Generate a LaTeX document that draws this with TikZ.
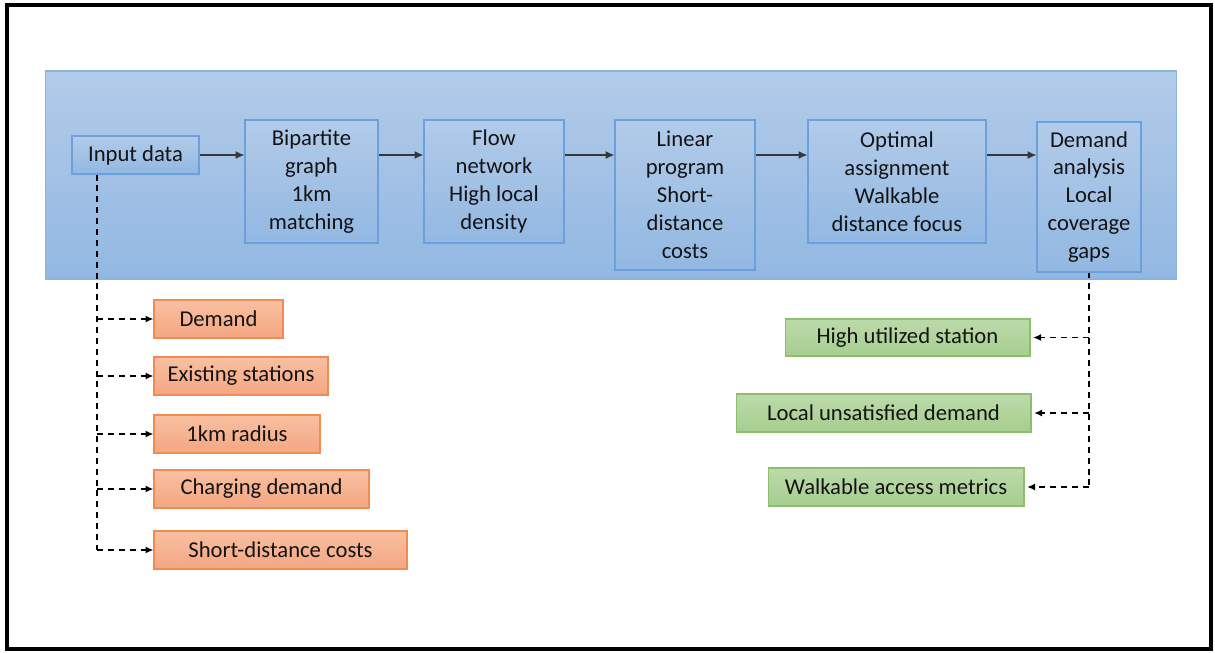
\documentclass[tikz,border=0pt]{standalone}
\usepackage{fontspec}
\setmainfont{Carlito}
\usetikzlibrary{
    arrows.meta,
    calc
}
\definecolor{bandtop}{RGB}{178,203,233}
\definecolor{bandbot}{RGB}{146,184,226}
\definecolor{bandline}{RGB}{140,178,225}
\definecolor{boxline}{RGB}{108,160,220}
\definecolor{orgtop}{RGB}{248,192,162}
\definecolor{orgbot}{RGB}{244,166,130}
\definecolor{orgline}{RGB}{240,140,82}
\definecolor{grntop}{RGB}{188,218,170}
\definecolor{grnbot}{RGB}{166,206,142}
\definecolor{grnline}{RGB}{140,190,110}
\definecolor{ink}{RGB}{20,20,20}

\tikzset{
    stagebox/.style={draw=boxline, line width=0.6pt, top color=bandtop,
        bottom color=bandbot, align=center, inner sep=0pt, text=ink,
        font=\fontsize{12.9}{15.9}\selectfont},
    inbox/.style={draw=orgline, line width=0.6pt, top color=orgtop,
        bottom color=orgbot, minimum height=0.76cm, inner sep=0pt, text=ink,
        font=\fontsize{12.9}{15.9}\selectfont},
    outbox/.style={draw=grnline, line width=0.6pt, top color=grntop,
        bottom color=grnbot, minimum height=0.76cm, inner sep=0pt, text=ink,
        font=\fontsize{12.9}{15.9}\selectfont},
    flowarrow/.style={-{Latex[length=5pt,width=4.5pt]}, line width=0.75pt, draw=ink!85},
    feedline/.style={line width=0.9pt, dash pattern=on 3.4pt off 2.8pt},
    feedarrow/.style={feedline, -{Latex[length=4.5pt,width=4pt]}}
}

\begin{document}
\begin{tikzpicture}[x=0.02cm, y=-0.02cm]

\useasboundingbox (0,0) rectangle (1215,653);

% Frame
\draw[line width=2.2pt] (7,5) rectangle (1211,649);

% Band
\node[draw=bandline, line width=0.6pt, top color=bandtop, bottom color=bandbot,
    minimum width=22.64cm, minimum height=4.16cm, inner sep=0pt] (band) at (611,175) {};

% Stages
\node[stagebox, minimum width=2.54cm, minimum height=0.76cm] (input) at (135.5,155) {Input data};
\node[stagebox, minimum width=2.66cm, minimum height=2.46cm] (bipart) at (311.5,181.5) {Bipartite\\graph\\1km\\matching};
\node[stagebox, minimum width=2.8cm, minimum height=2.46cm] (flownet) at (494,181.5) {Flow\\network\\High local\\density};
\node[stagebox, minimum width=2.8cm, minimum height=3.0cm] (linprog) at (685,195) {Linear\\program\\Short-\\distance\\costs};
\node[stagebox, minimum width=3.56cm, minimum height=2.46cm] (optassign) at (897,181.5) {Optimal\\assignment\\Walkable\\distance focus};
\node[stagebox, minimum width=2.08cm, minimum height=3.0cm] (demand) at (1089,197) {Demand\\analysis\\Local\\coverage\\gaps};

% Stage arrows
\draw[flowarrow] (input.east) -- (bipart.west |- input.east);
\draw[flowarrow] (bipart.east |- input.east) -- (flownet.west |- input.east);
\draw[flowarrow] (flownet.east |- input.east) -- (linprog.west |- input.east);
\draw[flowarrow] (linprog.east |- input.east) -- (optassign.west |- input.east);
\draw[flowarrow] (optassign.east |- input.east) -- (demand.west |- input.east);

% Inputs
\node[inbox, minimum width=2.58cm] (dem) at (218.5,319) {Demand};
\node[inbox, minimum width=3.48cm] (exist) at (241,376) {Existing stations};
\node[inbox, minimum width=3.32cm] (radius) at (237,434) {1km radius};
\node[inbox, minimum width=4.3cm] (charge) at (261.5,489) {Charging demand};
\node[inbox, minimum width=5.06cm] (short) at (280.5,550) {Short-distance costs};

\coordinate (lspine) at (97,550);
\draw[feedline] (input.south -| lspine) -- (lspine);
\foreach \b in {dem,exist,radius,charge,short}
    \draw[feedarrow] (lspine |- \b.west) -- (\b.west);

% Outputs
\node[outbox, minimum width=4.9cm, minimum height=0.74cm] (util) at (907.5,337.5) {High utilized station};
\node[outbox, minimum width=5.9cm] (unsat) at (883.5,413) {Local unsatisfied demand};
\node[outbox, minimum width=5.12cm] (walk) at (896,487) {Walkable access metrics};

\coordinate (rspine) at (1089,489);
\draw[feedline] (demand.south) -- (rspine);
\foreach \b in {util,unsat,walk}
    \draw[feedarrow, shorten >=1.5pt] (rspine |- \b.east) -- (\b.east);

\end{tikzpicture}
\end{document}
